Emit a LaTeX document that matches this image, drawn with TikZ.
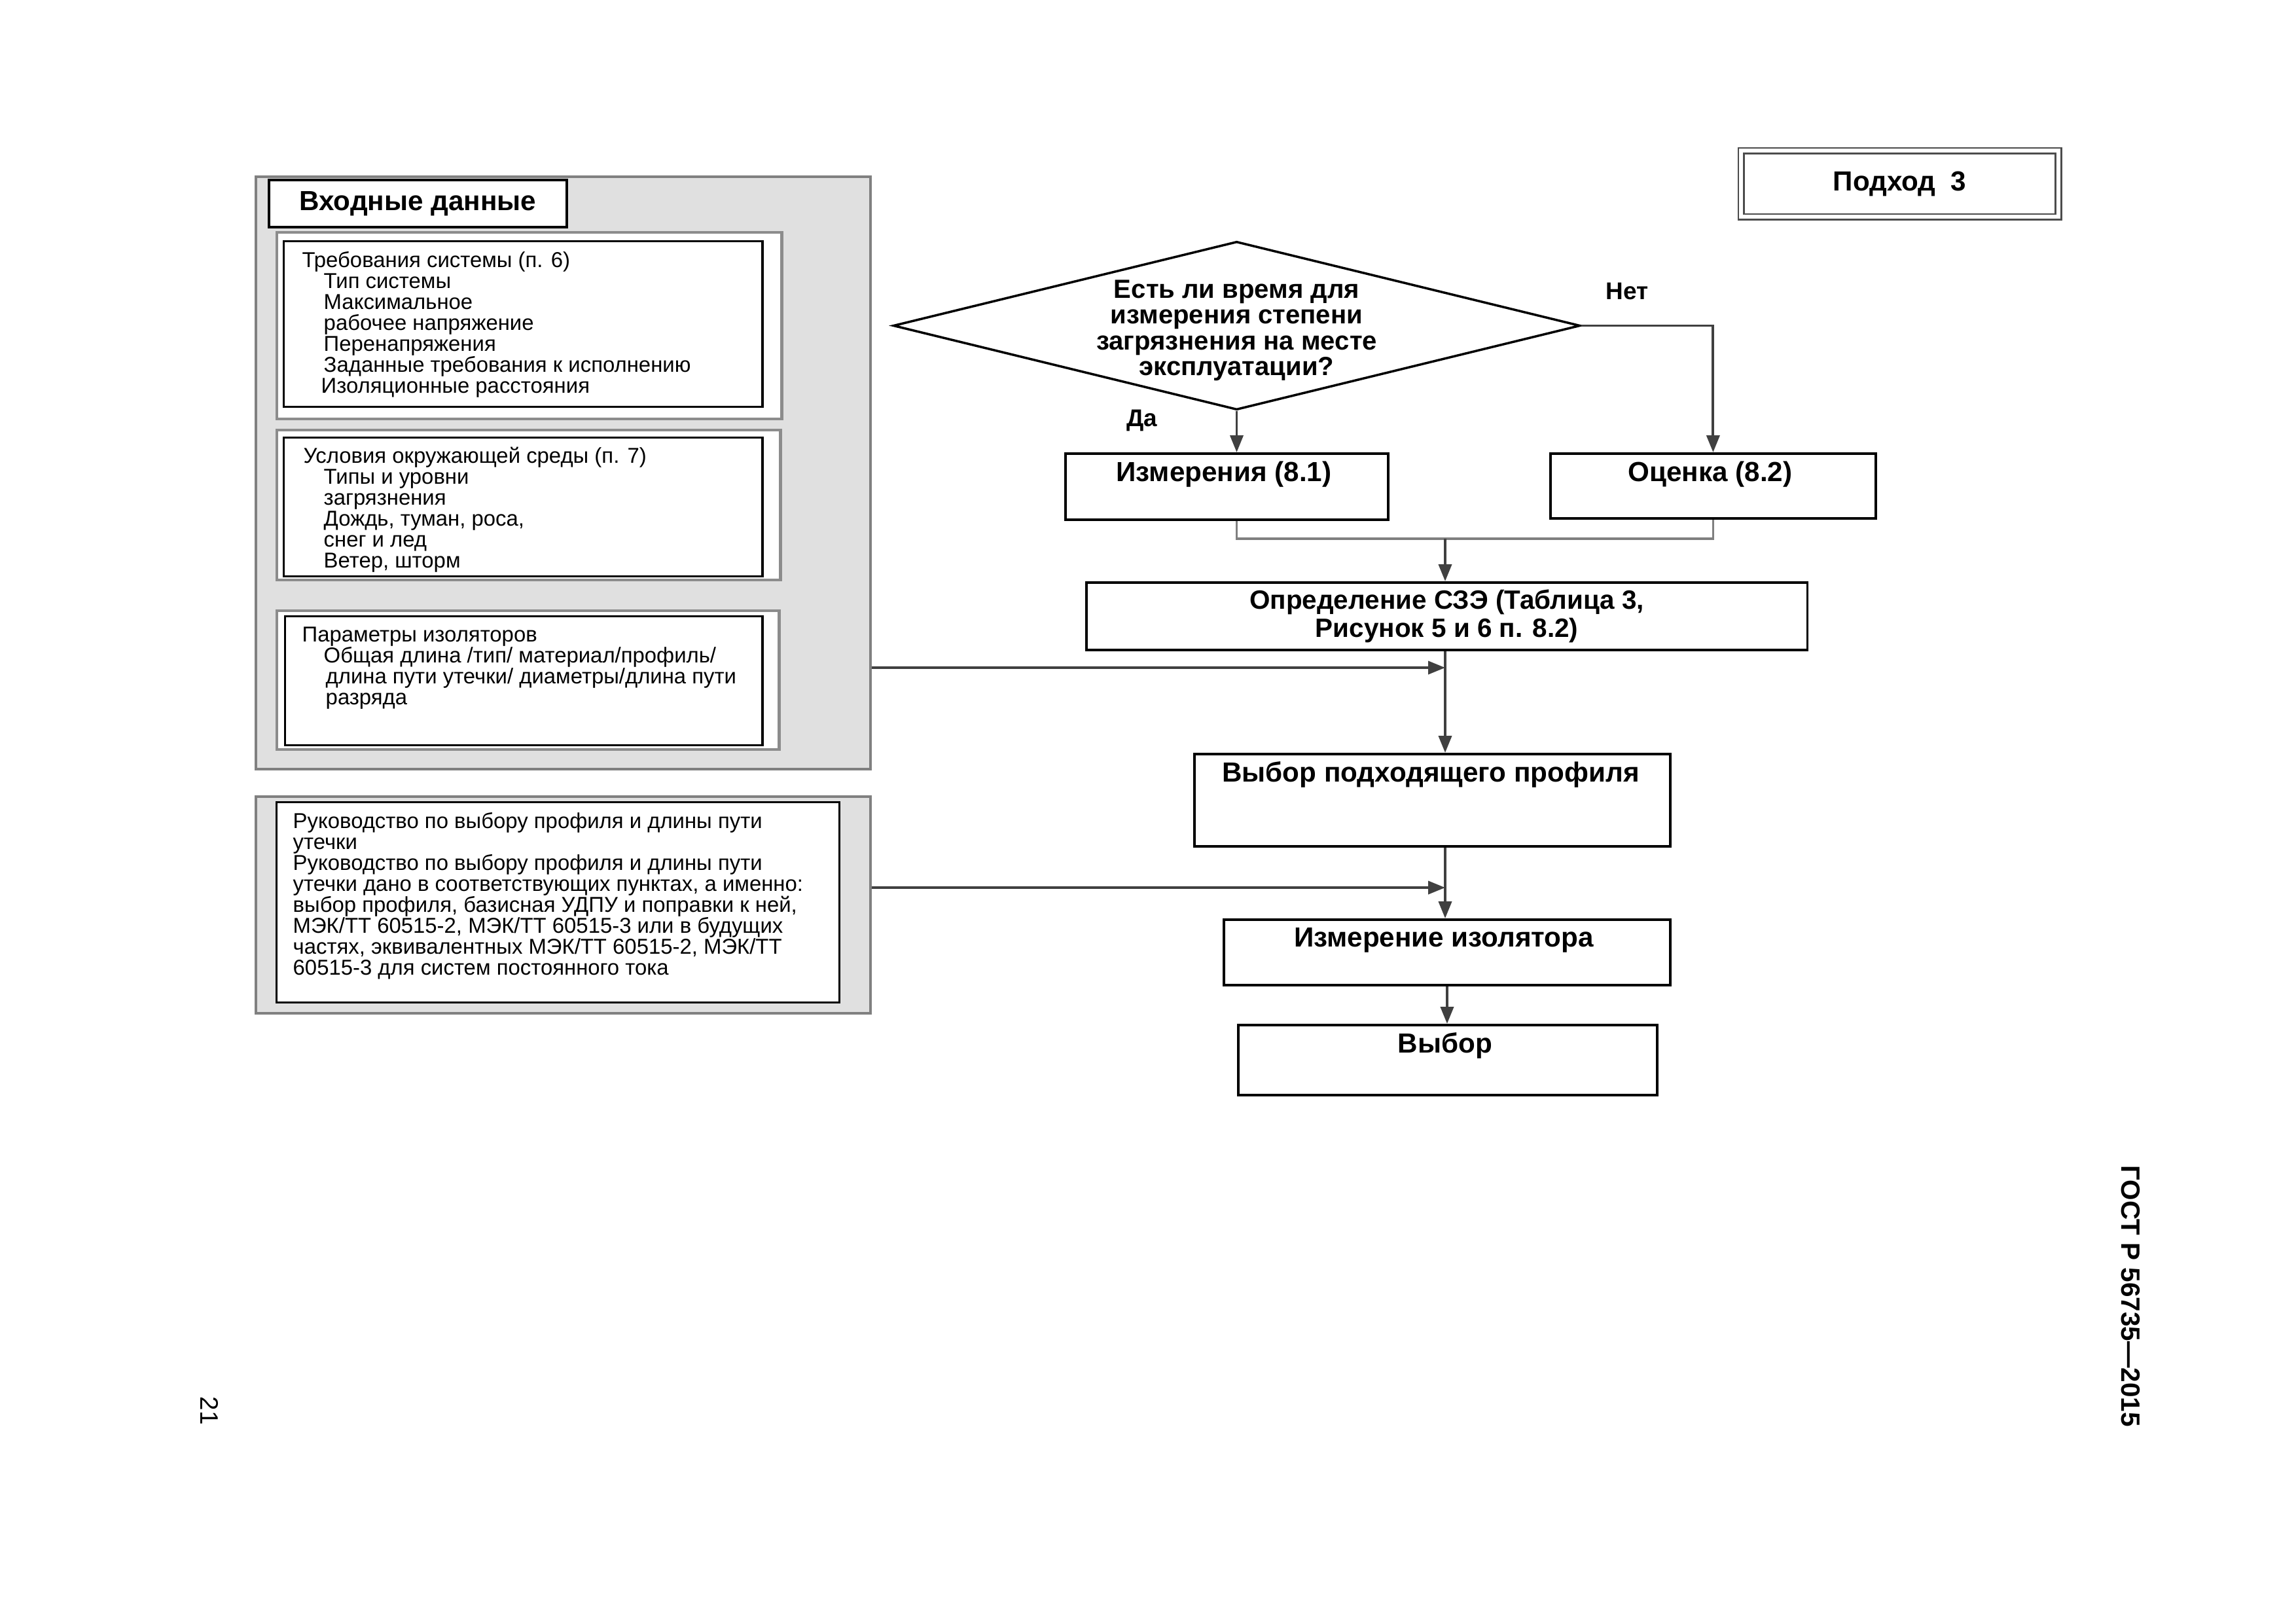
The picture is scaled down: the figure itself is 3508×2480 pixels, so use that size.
\documentclass[tikz,border=0pt]{standalone}
\usepackage{fontspec}
\setmainfont{Liberation Sans}
\usetikzlibrary{shapes.geometric,arrows.meta}

\tikzset{
  panel/.style={draw=black!50, fill=black!12, line width=1.2pt, anchor=north west, inner sep=0pt},
  subpanel/.style={draw=black!45, fill=white, line width=1.2pt, anchor=north west, inner sep=0pt},
  inbox/.style={draw=black, fill=white, line width=0.9pt, anchor=north west, inner sep=0pt},
  fbox/.style={draw=black, fill=white, line width=1pt, anchor=north west, inner sep=0pt},
  smalltxt/.style={font=\fontsize{9.35}{9.1}\selectfont, align=left, anchor=north west, inner sep=0pt},
  btxt/.style={font=\fontsize{12}{13}\selectfont\bfseries, inner sep=0pt},
  lbl/.style={font=\fontsize{10.5}{12}\selectfont\bfseries, inner sep=0pt},
  arr/.style={draw=black!75, line width=1.1pt, -{Triangle[length=0.26cm,width=0.2cm]}},
  mline/.style={draw=black!50, line width=0.9pt},
}

\begin{document}
\begin{tikzpicture}[x=0.01cm, y=-0.01cm]
    \useasboundingbox (0,0) rectangle (3508,2480);

    % 1. Pannello "Входные данные"
    \node[panel, minimum width=9.38cm, minimum height=9.04cm] (inp) at (389,268) {};
    \node[fbox, minimum width=4.55cm, minimum height=0.72cm, font=\fontsize{12}{13}\selectfont\bfseries] (head) at (409,273) {Входные данные};

    % requisiti del sistema
    \node[subpanel, minimum width=7.71cm, minimum height=2.85cm] (sub1) at (421,353) {};
    \node[inbox, minimum width=7.31cm, minimum height=2.53cm] (req) at (432,367) {};
    \node[smalltxt] (reqtxt) at (461,384) {Требования системы (п. 6)\\
      \hspace*{0.33cm}Тип системы\\
      \hspace*{0.33cm}Максимальное\\
      \hspace*{0.33cm}рабочее напряжение\\
      \hspace*{0.33cm}Перенапряжения\\
      \hspace*{0.33cm}Заданные требования к исполнению\\
      \hspace*{0.29cm}Изоляционные расстояния};

    % condizioni ambientali
    \node[subpanel, minimum width=7.69cm, minimum height=2.29cm] (sub2) at (421,655) {};
    \node[inbox, minimum width=7.31cm, minimum height=2.12cm] (env) at (432,667) {};
    \node[smalltxt] (envtxt) at (463,682) {Условия окружающей среды (п. 7)\\
      \hspace*{0.31cm}Типы и уровни\\
      \hspace*{0.31cm}загрязнения\\
      \hspace*{0.31cm}Дождь, туман, роса,\\
      \hspace*{0.31cm}снег и лед\\
      \hspace*{0.31cm}Ветер, шторм};

    % parametri degli isolatori
    \node[subpanel, minimum width=7.67cm, minimum height=2.12cm] (sub3) at (421,931) {};
    \node[inbox, minimum width=7.29cm, minimum height=1.97cm] (par) at (434,940) {};
    \node[smalltxt] (partxt) at (461,957) {Параметры изоляторов\\
      \hspace*{0.33cm}Общая длина /тип/ материал/профиль/\\
      \hspace*{0.36cm}длина пути утечки/ диаметры/длина пути\\
      \hspace*{0.36cm}разряда};

    % 2. Pannello guida
    \node[panel, minimum width=9.38cm, minimum height=3.31cm] (guide) at (389,1215) {};
    \node[inbox, minimum width=8.59cm, minimum height=3.06cm] (gbox) at (421,1224) {};
    \node[smalltxt] (gtxt) at (447,1241) {Руководство по выбору профиля и длины пути\\
      утечки\\
      Руководство по выбору профиля и длины пути\\
      утечки дано в соответствующих пунктах, а именно:\\
      выбор профиля, базисная УДПУ и поправки к ней,\\
      МЭК/ТТ 60515-2, МЭК/ТТ 60515-3 или в будущих\\
      частях, эквивалентных МЭК/ТТ 60515-2, МЭК/ТТ\\
      60515-3 для систем постоянного тока};

    % 3. Diagramma di flusso
    \node[fbox, draw=black!70, double, double distance=0.06cm, line width=0.8pt, minimum width=4.84cm, minimum height=1.01cm, font=\fontsize{12}{13}\selectfont\bfseries] (pod) at (2659,229) {Подход\ \ 3};

    \node[diamond, draw, line width=1pt, shape aspect=4.08, minimum width=10.49cm, minimum height=2.57cm, inner sep=0pt] (dia) at (1889.5,497.5) {};
    \node[align=center, inner sep=0pt, font=\fontsize{11.4}{11.2}\selectfont\bfseries] (diatxt) at (1889.5,505) {Есть ли время для\\измерения степени\\загрязнения на месте\\эксплуатации?};
    \node[lbl] (no) at (2486,445) {Нет};
    \node[lbl] (yes) at (1745,642) {Да};

    \node[fbox, minimum width=4.93cm, minimum height=1.01cm] (izm) at (1626,691) {};
    \node[btxt] (izmtxt) at (1870,725) {Измерения (8.1)};
    \node[fbox, minimum width=4.97cm, minimum height=0.99cm] (ocn) at (2367,691) {};
    \node[btxt] (ocntxt) at (2613,725) {Оценка (8.2)};

    \node[fbox, minimum width=11.01cm, minimum height=1.03cm, align=center, font=\fontsize{11.5}{12.2}\selectfont\bfseries] (opr) at (1658,888) {Определение СЗЭ (Таблица 3,\\Рисунок 5 и 6 п. 8.2)};

    \node[fbox, minimum width=7.27cm, minimum height=1.41cm] (vyb) at (1823,1150) {};
    \node[btxt] (vybtxt) at (2186,1183) {Выбор подходящего профиля};
    \node[fbox, minimum width=6.82cm, minimum height=1.00cm] (izo) at (1868,1403) {};
    \node[btxt] (izotxt) at (2206,1436) {Измерение изолятора};
    \node[fbox, minimum width=6.40cm, minimum height=1.07cm] (fin) at (1890,1564) {};
    \node[btxt] (fintxt) at (2208,1597) {Выбор};

    % 4. Connettori
    \coordinate (mrg) at (2208,823);
    \coordinate (jA) at (2208,1020);
    \coordinate (jB) at (2208,1356);

    \draw[arr] (dia.south) -- (dia.south |- izm.north);
    \draw[arr] (dia.east) -| (ocn.north);
    \draw[mline] (dia.south |- izm.south) |- (mrg) -| (ocn.south);
    \draw[arr] (mrg) -- (mrg |- opr.north);
    \draw[arr] (jA |- opr.south) -- (jA |- vyb.north);
    \draw[arr] (inp.east |- jA) -- (jA);
    \draw[arr] (jB |- vyb.south) -- (jB |- izo.north);
    \draw[arr] (guide.east |- jB) -- (jB);
    \draw[arr] (izo.south) -- (izo.south |- fin.north);

    % 5. Intestazione pagina
    \node[rotate=-90, font=\fontsize{11.5}{13}\selectfont\bfseries] (gost) at (3255,1980) {ГОСТ Р 56735—2015};
    \node[rotate=-90, font=\fontsize{11}{13}\selectfont] (pnum) at (320,2155) {21};

\end{tikzpicture}
\end{document}
